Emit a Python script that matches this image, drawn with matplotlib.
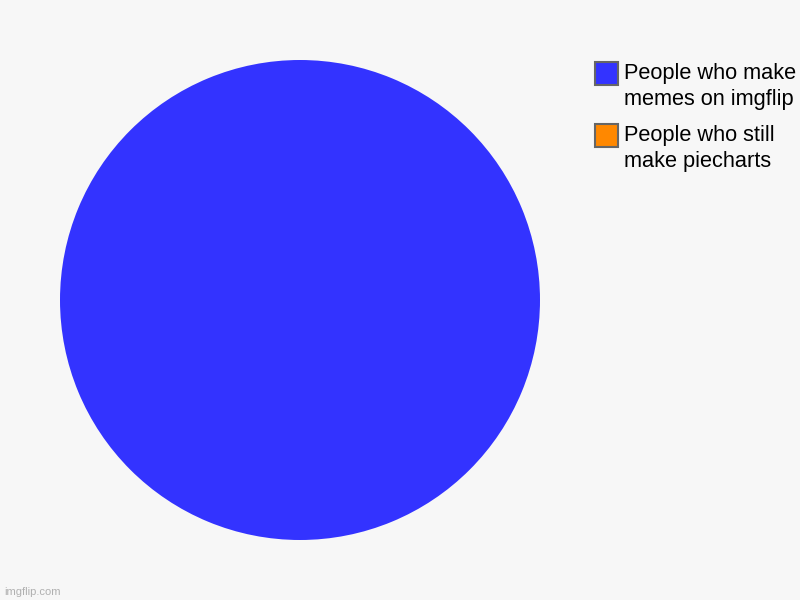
import matplotlib
matplotlib.use("Agg")
import matplotlib.pyplot as plt
from matplotlib.legend_handler import HandlerPatch

plt.rcParams['font.family'] = ['Liberation Sans', 'DejaVu Sans']

labels = ["People who make\nmemes on imgflip", "People who still\nmake piecharts"]
values = [100, 0]
colours = ["#3333ff", "#ff8800"]

fig = plt.figure(figsize=(8, 6), dpi=100, facecolor="#f7f7f7")
ax = fig.add_axes([60/800, 60/600, 480/800, 480/600])
ax.set_facecolor("#f7f7f7")

wedges, _ = ax.pie(values, colors=colours, startangle=90, counterclock=False,
                   radius=1, wedgeprops=dict(linewidth=0))
ax.set_xlim(-1, 1)
ax.set_ylim(-1, 1)
ax.set_aspect("equal")
ax.axis("off")

fs = 15.7
box = 16.5  # points


def top_box(legend, orig_handle, xdescent, ydescent, width, height, fontsize):
    # square lined up with the first text line
    return plt.Rectangle((-xdescent, -ydescent + height - box + 4.3), box, box)


handles = [plt.Rectangle((0, 0), 1, 1, facecolor=c, edgecolor="#666666", linewidth=1.5)
           for c in colours]

leg = fig.legend(handles, labels, loc="upper left",
                 bbox_to_anchor=(595/800, 1 - 63/600), frameon=False,
                 fontsize=fs, handlelength=1.05, handleheight=2.4,
                 handletextpad=0.3, labelspacing=0.69, borderpad=0,
                 borderaxespad=0,
                 handler_map={plt.Rectangle: HandlerPatch(patch_func=top_box)})
for t in leg.get_texts():
    t.set_linespacing(1.3)

fig.text(4/800, 1 - 595/600, "imgflip.com", fontsize=8, color="#b0b0b0")

fig.savefig("out.png", dpi=100, facecolor=fig.get_facecolor())
